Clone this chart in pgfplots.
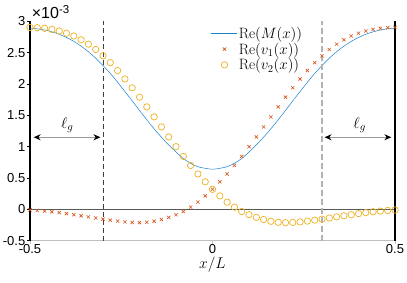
\RequirePackage{fix-cm}
\documentclass[border=0pt]{standalone}
\usepackage{pgfplots}
\pgfplotsset{compat=1.18}
\usepackage{fontspec}
\setsansfont{Liberation Sans}
\usetikzlibrary{arrows.meta,calc}
\definecolor{mblue}{rgb}{0.1,0.5,0.8}
\definecolor{morange}{rgb}{0.85,0.325,0.098}
\definecolor{myellow}{rgb}{0.929,0.694,0.125}
\pgfplotsset{
  mylineleg/.style={legend image code/.code={\draw[##1] (0pt,0pt) -- (26pt,0pt);}},
  mymarkleg/.style={legend image code/.code={\draw[##1] plot coordinates {(13pt,0pt)}; \path (0pt,0pt) (26pt,0pt);}},
}
\pgfplotstableread{
x y
-0.50 2.892
-0.48 2.880
-0.46 2.861
-0.44 2.832
-0.42 2.793
-0.40 2.742
-0.38 2.680
-0.36 2.603
-0.34 2.515
-0.32 2.412
-0.30 2.294
-0.28 2.168
-0.26 2.028
-0.24 1.880
-0.22 1.731
-0.20 1.578
-0.18 1.429
-0.16 1.285
-0.14 1.152
-0.12 1.027
-0.10 0.915
-0.08 0.810
-0.06 0.735
-0.04 0.680
-0.02 0.655
0.00 0.640
0.02 0.655
0.04 0.680
0.06 0.735
0.08 0.810
0.10 0.915
0.12 1.027
0.14 1.152
0.16 1.285
0.18 1.429
0.20 1.578
0.22 1.731
0.24 1.880
0.26 2.028
0.28 2.168
0.30 2.294
0.32 2.412
0.34 2.515
0.36 2.603
0.38 2.680
0.40 2.742
0.42 2.793
0.44 2.832
0.46 2.861
0.48 2.880
0.50 2.892
}\Mtab
\pgfplotstableread{
x y
-0.50 -0.010
-0.48 -0.018
-0.46 -0.027
-0.44 -0.038
-0.42 -0.052
-0.40 -0.068
-0.38 -0.085
-0.36 -0.102
-0.34 -0.120
-0.32 -0.138
-0.30 -0.156
-0.28 -0.172
-0.26 -0.187
-0.24 -0.200
-0.22 -0.209
-0.20 -0.212
-0.18 -0.206
-0.16 -0.190
-0.14 -0.163
-0.12 -0.128
-0.10 -0.085
-0.08 -0.035
-0.06 0.035
-0.04 0.115
-0.02 0.215
0.00 0.320
0.02 0.440
0.04 0.565
0.06 0.700
0.08 0.845
0.10 1.000
0.12 1.155
0.14 1.315
0.16 1.475
0.18 1.635
0.20 1.790
0.22 1.940
0.24 2.080
0.26 2.215
0.28 2.340
0.30 2.450
0.32 2.550
0.34 2.635
0.36 2.705
0.38 2.765
0.40 2.810
0.42 2.845
0.44 2.870
0.46 2.888
0.48 2.898
0.50 2.902
}\Vonetab
\pgfplotstableread{
x y
-0.50 2.902
-0.48 2.898
-0.46 2.888
-0.44 2.870
-0.42 2.845
-0.40 2.810
-0.38 2.765
-0.36 2.705
-0.34 2.635
-0.32 2.550
-0.30 2.450
-0.28 2.340
-0.26 2.215
-0.24 2.080
-0.22 1.940
-0.20 1.790
-0.18 1.635
-0.16 1.475
-0.14 1.315
-0.12 1.155
-0.10 1.000
-0.08 0.845
-0.06 0.700
-0.04 0.565
-0.02 0.440
0.00 0.320
0.02 0.215
0.04 0.115
0.06 0.035
0.08 -0.035
0.10 -0.085
0.12 -0.128
0.14 -0.163
0.16 -0.190
0.18 -0.206
0.20 -0.212
0.22 -0.209
0.24 -0.200
0.26 -0.187
0.28 -0.172
0.30 -0.156
0.32 -0.138
0.34 -0.120
0.36 -0.102
0.38 -0.085
0.40 -0.068
0.42 -0.052
0.44 -0.038
0.46 -0.027
0.48 -0.018
0.50 -0.010
}\Vtwotab
\begin{document}
\begin{tikzpicture}
\begin{axis}[
  scale only axis, width=365pt, height=219.4pt,
  xmin=-0.5, xmax=0.5, ymin=-0.5, ymax=3,
  axis x line*=bottom, axis y line*=left,
  axis line style={-},
  x axis line style={color=black!25, line width=0.8pt},
  y axis line style={color=black, line width=2.2pt},
  tick align=outside, major tick length=3pt,
  x tick style={color=black!25, line width=0.6pt},
  y tick style={color=black, line width=0.6pt},
  xtick={-0.5,0,0.5}, xticklabels={-0.5,0,0.5},
  ytick={-0.5,0,0.5,1,1.5,2,2.5,3},
  yticklabels={-0.5,0,0.5,1,1.5,2,2.5,3},
  ticklabel style={font=\sffamily\fontsize{13}{15}\selectfont},
  xticklabel style={inner sep=1pt},
  yticklabel style={inner sep=1.5pt},
  xlabel={$x/L$}, xlabel style={font=\fontsize{15.5}{17}\selectfont, inner sep=0pt, yshift=-2pt},
  clip=false,
  legend style={draw=none, fill=none, at={(rel axis cs:0.493,0.984)}, anchor=north west,
    font=\fontsize{15}{17}\selectfont, row sep=1pt, column sep=0pt, inner sep=1pt,
    nodes={inner sep=1pt}},
  legend cell align=left,
]
\addplot[color=mblue, line width=0.5pt, smooth, mylineleg] table {\Mtab};
\addlegendentry{$\mathrm{Re}(M(x))$}
\addplot[only marks, mark=x, color=morange, mark size=2.3pt, line width=0.6pt, mymarkleg] table {\Vonetab};
\addlegendentry{$\mathrm{Re}(v_1(x))$}
\addplot[only marks, mark=o, color=myellow, mark size=3.2pt, line width=0.7pt, mymarkleg] table {\Vtwotab};
\addlegendentry{$\mathrm{Re}(v_2(x))$}
\draw[color=black!65, line width=0.6pt] (axis cs:-0.5,0) -- (axis cs:0.5,0);
\draw[color=black!75, line width=0.6pt, dash pattern=on 5pt off 3pt] (axis cs:-0.3,-0.5) -- (axis cs:-0.3,3);
\draw[color=black!30, line width=1.4pt, dash pattern=on 6pt off 3pt] (axis cs:0.3,-0.5) -- (axis cs:0.3,3);
\draw[color=black, line width=2.2pt] (axis cs:0.5,-0.5) -- (axis cs:0.5,3);
\draw[color=black!40, line width=0.9pt, {Stealth[length=7pt,width=6pt,color=black]}-{Stealth[length=7pt,width=6pt,color=black]}] (axis cs:-0.49,1.15) -- (axis cs:-0.307,1.15);
\draw[color=black!40, line width=0.9pt, {Stealth[length=7pt,width=6pt,color=black]}-{Stealth[length=7pt,width=6pt,color=black]}] (axis cs:0.307,1.15) -- (axis cs:0.49,1.15);
\node[font=\fontsize{15.5}{17}\selectfont] at (axis cs:-0.398,1.34) {$\ell_g$};
\node[font=\fontsize{15.5}{17}\selectfont] at (axis cs:0.403,1.34) {$\ell_g$};
\node[anchor=base west, inner sep=0pt, font=\sffamily\fontsize{16}{18}\selectfont] at ($(rel axis cs:0,1)+(1.7pt,3pt)$) {×10\raisebox{0.55ex}{\fontsize{11.5}{13}\selectfont -3}};
\coordinate (sw) at (rel axis cs:0,0);
\coordinate (ne) at (rel axis cs:1,1);
\end{axis}
\pgfresetboundingbox
\path[use as bounding box] ($(sw)+(-30pt,-42.3pt)$) rectangle ($(ne)+(12pt,21.3pt)$);
\end{tikzpicture}
\end{document}
